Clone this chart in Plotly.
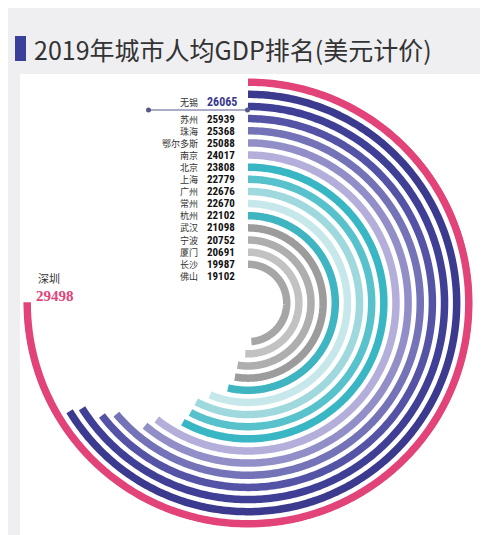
import plotly.graph_objects as go
import numpy as np

cities = ['深圳', '无锡', '苏州', '珠海', '鄂尔多斯', '南京', '北京', '上海', '广州',
          '常州', '杭州', '武汉', '宁波', '厦门', '长沙', '佛山']
gdp = [29498, 26065, 25939, 25368, 25088, 24017, 23808, 22779, 22676,
       22670, 22102, 21098, 20752, 20691, 19987, 19102]
colors = ['#e2447a', '#3b3a8e', '#403f96', '#5553a6', '#7573b8', '#928fc8', '#b3afda',
          '#38b6c3', '#57c2cb', '#9fd9de', '#c6e8eb', '#3fb5c1', '#9c9c9c', '#aeaeae',
          '#c2c2c2', '#a6a6a6']

FULL = 39300  # value of a full circle
W, H = 488, 535
cx, cy, R = 240, 295, 225

fig = go.Figure()
for i, (c, v, col) in enumerate(zip(cities, gdp, colors)):
    r = 211 - i * 11.6
    th = np.linspace(0, v / FULL * 360, 300)
    fig.add_trace(go.Scatterpolar(r=np.full_like(th, r), theta=th, mode='lines',
                                  line=dict(color=col, width=7.5), hoverinfo='skip',
                                  showlegend=False))

fig.update_layout(
    width=W, height=H, margin=dict(l=0, r=0, t=0, b=0),
    paper_bgcolor='#efeff1',
    polar=dict(domain=dict(x=[(cx - R) / W, (cx + R) / W], y=[(H - cy - R) / H, (H - cy + R) / H]),
               bgcolor='rgba(0,0,0,0)',
               radialaxis=dict(range=[0, 215], visible=False),
               angularaxis=dict(rotation=90, direction='clockwise', visible=False)),
    shapes=[
        dict(type='rect', xref='paper', yref='paper', x0=12 / W, x1=476 / W, y0=1 - 530 / H, y1=1 - 66 / H,
             fillcolor='white', line_width=0, layer='below'),
        dict(type='rect', xref='paper', yref='paper', x0=7 / W, x1=18 / W, y0=1 - 53 / H, y1=1 - 28 / H,
             fillcolor='#3a3f9a', line_width=0),
        dict(type='line', xref='paper', yref='paper', x0=140 / W, x1=240 / W, y0=1 - 102 / H, y1=1 - 102 / H,
             line=dict(color='#555a8a', width=1)),
        dict(type='circle', xref='paper', yref='paper', x0=138 / W, x1=143 / W, y0=1 - 104.5 / H, y1=1 - 99.5 / H,
             fillcolor='#555a8a', line_width=0),
        dict(type='circle', xref='paper', yref='paper', x0=237 / W, x1=242 / W, y0=1 - 104.5 / H, y1=1 - 99.5 / H,
             fillcolor='#555a8a', line_width=0),
    ],
)

ann = [dict(text='2019年城市人均GDP排名(美元计价)', x=24 / W, y=1 - 41 / H, xanchor='left', yanchor='middle',
            font=dict(size=25, color='#333333', family='Noto Sans CJK SC'))]
for i in range(1, len(cities)):
    y = 94 if i == 1 else 111 + (i - 2) * 12.1
    ann.append(dict(text=cities[i], x=192 / W, y=1 - y / H, xanchor='right', yanchor='middle',
                    font=dict(size=9, color='#333333', family='Noto Sans CJK SC')))
    ann.append(dict(text='<b>%d</b>' % gdp[i], x=197 / W, y=1 - y / H, xanchor='left', yanchor='middle',
                    font=dict(size=11 if i > 1 else 12, color='#111111' if i > 1 else '#3b3a8e',
                              family='Liberation Sans Narrow, Roboto Condensed, Arial Narrow')))
ann.append(dict(text=cities[0], x=28 / W, y=1 - 270 / H, xanchor='left', yanchor='middle',
                font=dict(size=11, color='#333333', family='Noto Sans CJK SC')))
ann.append(dict(text='<b>%d</b>' % gdp[0], x=26 / W, y=1 - 288 / H, xanchor='left', yanchor='middle',
                font=dict(size=15, color='#e2447a', family='Liberation Sans Narrow, Arial Narrow')))
for a in ann:
    a.update(xref='paper', yref='paper', showarrow=False)
fig.update_layout(annotations=ann)

fig.write_html('out.html')
